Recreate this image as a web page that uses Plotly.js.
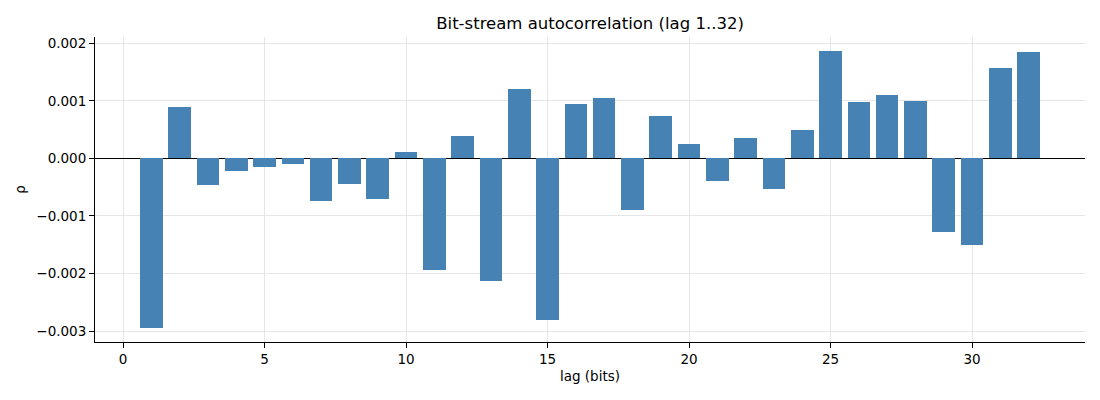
<!DOCTYPE html>
<html>
<head>
<meta charset="utf-8">
<script src="https://cdn.plot.ly/plotly-3.0.1.min.js"></script>
<style>
  html, body { margin: 0; padding: 0; background: #fff; }
  #chart { width: 1100px; height: 400px; }
</style>
</head>
<body>
<div id="chart"></div>
<script>
// lag index and autocorrelation
const lags = [1, 2, 3, 4, 5, 6, 7, 8, 9, 10, 11, 12, 13, 14, 15, 16,
  17, 18, 19, 20, 21, 22, 23, 24, 25, 26, 27, 28, 29, 30, 31, 32];
const rho = [
  -0.00295, 0.000895, -0.000459, -0.000215, -0.000145, -0.000093, -0.000738, -0.000442,
  -0.000709, 0.000110, -0.001942, 0.000390, -0.002134, 0.001209, -0.002814, 0.000948,
  0.001052, -0.000895, 0.000738, 0.000250, -0.000390, 0.000355, -0.000529, 0.000494,
  0.001872, 0.000983, 0.001105, 0.001000, -0.001279, -0.001506, 0.001576, 0.001855
];
const xTicks = [0, 5, 10, 15, 20, 25, 30];
const yTicks = [-0.003, -0.002, -0.001, 0, 0.001, 0.002];

const bars = {
  x: lags,
  y: rho,
  type: "bar",
  width: 0.8,
  marker: { color: "#4682B4", line: { width: 0 } },
  hoverinfo: "x+y"
};

const axisCommon = {
  showline: true,
  linecolor: "#000",
  linewidth: 1,
  mirror: false,
  ticks: "outside",
  ticklen: 5,
  tickwidth: 1,
  tickcolor: "#000",
  showgrid: true,
  gridcolor: "#e6e6e6",
  gridwidth: 1,
  tickfont: { size: 13.5, color: "#000" }
};

Plotly.newPlot("chart", [bars], {
  width: 1100,
  height: 400,
  paper_bgcolor: "#fff",
  plot_bgcolor: "#fff",
  font: { family: "DejaVu Sans, sans-serif", color: "#000" },
  margin: { t: 37, r: 15, b: 58, l: 95 },
  showlegend: false,
  bargap: 0,
  title: {
    text: "Bit-stream autocorrelation (lag 1..32)",
    font: { size: 16.5, color: "#000" },
    x: 0.5364,
    xanchor: "center",
    y: 0.942,
    yanchor: "middle"
  },
  xaxis: Object.assign({}, axisCommon, {
    range: [-0.99, 33.99],
    tickvals: xTicks,
    ticktext: xTicks.map(String),
    zeroline: false,
    title: { text: "lag (bits)", font: { size: 13.5 }, standoff: 5 }
  }),
  yaxis: Object.assign({}, axisCommon, {
    range: [-0.00319, 0.00211],
    tickvals: yTicks,
    tickformat: ".3f",
    zeroline: true,
    zerolinecolor: "#000",
    zerolinewidth: 1,
    title: { text: "ρ", font: { size: 13.5 }, standoff: 7 }
  })
}, {
  displayModeBar: false,
  responsive: false
});
</script>
</body>
</html>
